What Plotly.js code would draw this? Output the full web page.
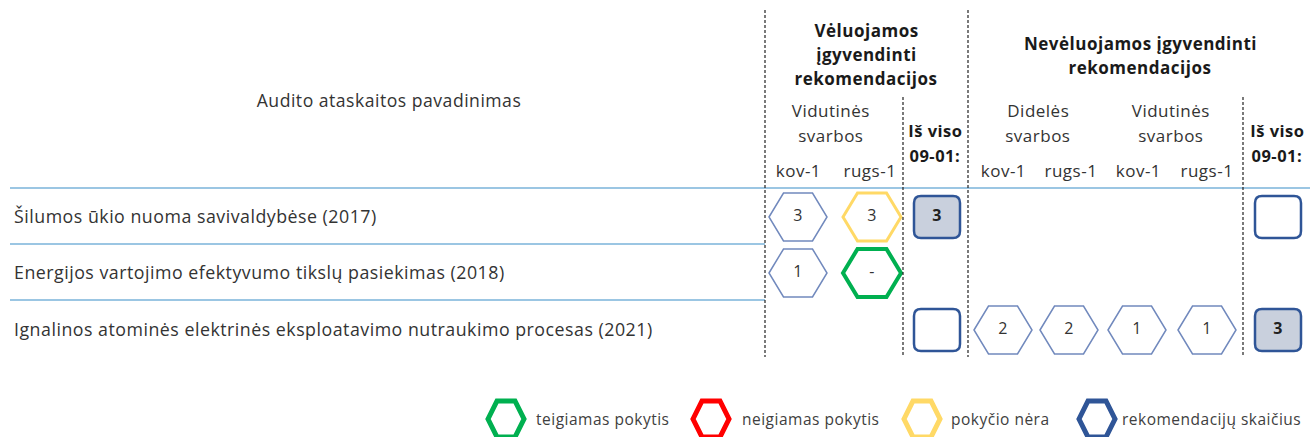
<!DOCTYPE html>
<html>
<head>
<meta charset="utf-8">
<script src="https://cdn.plot.ly/plotly-3.0.1.min.js"></script>
<style>
html,body{margin:0;padding:0;background:#fff;}
#chart{width:1310px;height:437px;}
#chart svg text{letter-spacing:0.5px;}
</style>
</head>
<body>
<div id="chart"></div>
<script>
// ---------- data ----------
var reports = [
  "Šilumos ūkio nuoma savivaldybėse (2017)",
  "Energijos vartojimo efektyvumo tikslų pasiekimas (2018)",
  "Ignalinos atominės elektrinės eksploatavimo nutraukimo procesas (2021)"
];
// Vėluojamos įgyvendinti rekomendacijos – vidutinės svarbos
var delayedMidKov  = ["3", "1", null];
var delayedMidRugs = ["3", "-", null];
var delayedMidRugsStatus = ["none", "positive", null];
// Iš viso 09-01 (vėluojamos): "" = empty box, null = no box
var delayedTotal = ["3", null, ""];
// Nevėluojamos įgyvendinti rekomendacijos
var nonHighKov  = [null, null, "2"];
var nonHighRugs = [null, null, "2"];
var nonMidKov   = [null, null, "1"];
var nonMidRugs  = [null, null, "1"];
var nonTotal    = ["", null, "3"];

var legendLabels = ["teigiamas pokytis", "neigiamas pokytis", "pokyčio nėra", "rekomendacijų skaičius"];
var legendKeys   = ["positive", "negative", "none", "count"];

// ---------- styles / layout positions ----------
var statusColor = {neutral: "#7189bd", positive: "#00b050", negative: "#ff0000", none: "#ffd966", count: "#2f5597"};
var statusWidth = {neutral: 1.5, positive: 4, negative: 4, none: 3, count: 4};
var rowY = [217, 273, 330];
var hexCols = [
  {x: 798,  vals: delayedMidKov,  status: [null, null, null]},
  {x: 872,  vals: delayedMidRugs, status: delayedMidRugsStatus},
  {x: 1003, vals: nonHighKov,     status: [null, null, null]},
  {x: 1069, vals: nonHighRugs,    status: [null, null, null]},
  {x: 1137, vals: nonMidKov,      status: [null, null, null]},
  {x: 1207, vals: nonMidRugs,     status: [null, null, null]}
];
var boxCols = [
  {x: 937,  vals: delayedTotal},
  {x: 1278, vals: nonTotal}
];
var HW = 29, HH = 24;   // table hexagon half width/height
var BW = 23, BH = 21, BR = 7; // box half width/height, corner radius

function hexPath(cx, cy, w, h) {
  return "M" + (cx - w) + "," + cy +
         " L" + (cx - w / 2) + "," + (cy - h) +
         " L" + (cx + w / 2) + "," + (cy - h) +
         " L" + (cx + w) + "," + cy +
         " L" + (cx + w / 2) + "," + (cy + h) +
         " L" + (cx - w / 2) + "," + (cy + h) + " Z";
}
function boxPath(cx, cy, w, h, r) {
  var l = cx - w, rr = cx + w, t = cy - h, b = cy + h;
  return "M" + (l + r) + "," + t + " L" + (rr - r) + "," + t +
         " Q" + rr + "," + t + " " + rr + "," + (t + r) +
         " L" + rr + "," + (b - r) +
         " Q" + rr + "," + b + " " + (rr - r) + "," + b +
         " L" + (l + r) + "," + b +
         " Q" + l + "," + b + " " + l + "," + (b - r) +
         " L" + l + "," + (t + r) +
         " Q" + l + "," + t + " " + (l + r) + "," + t + " Z";
}

var shapes = [];
var annotations = [];
var FONT = "Open Sans, Noto Sans, sans-serif";

// grid lines
shapes.push({type: "line", x0: 10, x1: 1310, y0: 188, y1: 188, xref: "x", yref: "y", line: {color: "#7ab3da", width: 1.5}});
shapes.push({type: "line", x0: 10, x1: 765, y0: 244, y1: 244, xref: "x", yref: "y", line: {color: "#7ab3da", width: 1.5}});
shapes.push({type: "line", x0: 10, x1: 765, y0: 300, y1: 300, xref: "x", yref: "y", line: {color: "#7ab3da", width: 1.5}});
// dashed separators
[[765, 10], [968, 10], [903, 97], [1243, 97]].forEach(function (d) {
  shapes.push({type: "line", x0: d[0], x1: d[0], y0: d[1], y1: 357, xref: "x", yref: "y",
    line: {color: "#222", width: 1.2, dash: "3px,2px"}});
});

// cell traces
var hexTx = [], hexTy = [], hexTt = [];
hexCols.forEach(function (c) {
  c.vals.forEach(function (v, i) {
    if (v === null) return;
    var st = c.status[i] || "neutral";
    shapes.push({type: "path", xref: "x", yref: "y", layer: "below", path: hexPath(c.x, rowY[i], HW, HH),
      line: {color: statusColor[st], width: statusWidth[st]}, fillcolor: "rgba(0,0,0,0)"});
    hexTx.push(c.x); hexTy.push(rowY[i]); hexTt.push(v);
  });
});
var boxTx = [], boxTy = [], boxTt = [];
boxCols.forEach(function (c) {
  c.vals.forEach(function (v, i) {
    if (v === null) return;
    shapes.push({type: "path", xref: "x", yref: "y", layer: "below", path: boxPath(c.x, rowY[i], BW, BH, BR),
      line: {color: "#2f5597", width: 2.5}, fillcolor: v === "" ? "#ffffff" : "#c9d0dd"});
    boxTx.push(c.x); boxTy.push(rowY[i]); boxTt.push(v);
  });
});

// headers
function hdr(x, y, t, bold, size) {
  annotations.push({x: x, y: y, xref: "x", yref: "y", text: bold ? "<b>" + t + "</b>" : t, showarrow: false,
    xanchor: "center", yanchor: "middle", align: "center",
    font: {family: FONT, size: size || 17, color: bold ? "#1a1a1a" : "#333"}});
}
hdr(389, 100, "Audito ataskaitos pavadinimas", false, 17.6);
hdr(866, 30, "Vėluojamos", true, 17);
hdr(866, 54, "įgyvendinti", true, 17);
hdr(866, 78, "rekomendacijos", true, 17);
hdr(1140, 43, "Nevėluojamos įgyvendinti", true, 17);
hdr(1140, 67, "rekomendacijos", true, 17);
hdr(831, 110, "Vidutinės");
hdr(831, 135, "svarbos");
hdr(1038, 110, "Didelės");
hdr(1038, 135, "svarbos");
hdr(1171, 110, "Vidutinės");
hdr(1171, 135, "svarbos");
hdr(935, 130, "Iš viso", true, 16.5);
hdr(935, 155, "09-01:", true, 16.5);
hdr(1277, 130, "Iš viso", true, 16.5);
hdr(1277, 155, "09-01:", true, 16.5);
var subLabels = ["kov-1", "rugs-1", "kov-1", "rugs-1", "kov-1", "rugs-1"];
var subX = [798, 870, 1003, 1071, 1138, 1207];
subLabels.forEach(function (s, i) { hdr(subX[i], 170, s); });

// legend
var legHexX = [506, 711, 922, 1097];
var legTextX = [536, 742, 951, 1122];
var legY = 419;
legendKeys.forEach(function (k, i) {
  shapes.push({type: "path", xref: "x", yref: "y", path: hexPath(legHexX[i], legY, 18, 18),
    line: {color: statusColor[k], width: 5}, fillcolor: "rgba(0,0,0,0)"});
});

var TEXT_DY = 2; // baseline nudge for left-aligned labels
var traces = [
  {type: "scatter", mode: "text", x: reports.map(function () { return 14; }),
   y: rowY.map(function (v) { return v + TEXT_DY; }), text: reports,
   textposition: "middle right", hoverinfo: "skip",
   textfont: {family: FONT, size: 17.8, color: "#333"}, showlegend: false},
  {type: "scatter", mode: "text", x: legTextX, y: legendLabels.map(function () { return legY + TEXT_DY; }), text: legendLabels,
   textposition: "middle right", hoverinfo: "skip",
   textfont: {family: FONT, size: 15.5, color: "#404040"}, showlegend: false},
  {type: "scatter", mode: "text", x: hexTx, y: hexTy, text: hexTt, hoverinfo: "skip",
   textfont: {family: FONT, size: 16, color: "#333"}, showlegend: false},
  {type: "scatter", mode: "text", x: boxTx, y: boxTy, text: boxTt.map(function (t) { return t ? "<b>" + t + "</b>" : ""; }),
   hoverinfo: "skip", textfont: {family: FONT, size: 16, color: "#222"}, showlegend: false}
];

var layout = {
  width: 1310, height: 437,
  margin: {l: 0, r: 0, t: 0, b: 0, pad: 0},
  paper_bgcolor: "#fff", plot_bgcolor: "#fff",
  xaxis: {range: [0, 1310], visible: false, fixedrange: true},
  yaxis: {range: [437, 0], visible: false, fixedrange: true},
  shapes: shapes, annotations: annotations, showlegend: false
};
Plotly.newPlot("chart", traces, layout, {staticPlot: true, displayModeBar: false});
</script>
</body>
</html>
